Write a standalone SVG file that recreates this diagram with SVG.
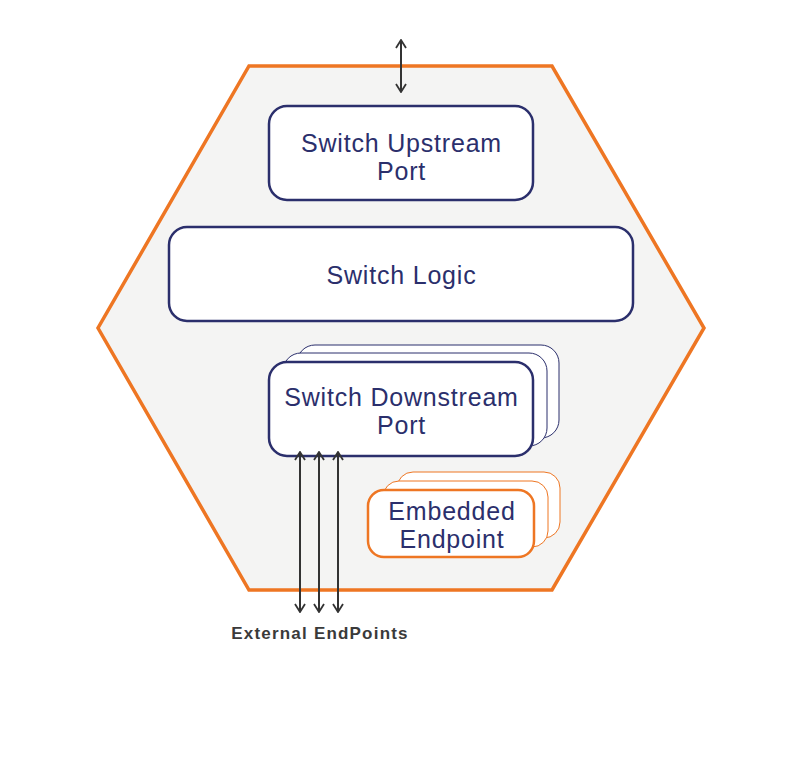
<svg xmlns="http://www.w3.org/2000/svg" width="801" height="762" viewBox="0 0 801 762">
<style>
.box{fill:#fff;stroke:#2b2f6c;stroke-width:2.5}
.back{fill:#fff;stroke:#2b2f6c;stroke-width:1}
.ebox{fill:#fff;stroke:#ee7623;stroke-width:2.5}
.eback{fill:#fff;stroke:#ee7623;stroke-width:1}
.t{font-family:"Liberation Sans",Arial,sans-serif;font-size:25px;letter-spacing:0.8px;fill:#2b2f6c;text-anchor:middle}
.lbl{font-family:"Liberation Sans",Arial,sans-serif;font-size:17px;letter-spacing:1.2px;font-weight:bold;fill:#3a3a3a;text-anchor:middle}
.conn{stroke:#333;stroke-width:2;fill:none;marker-start:url(#ah);marker-end:url(#ah)}
</style>
<defs>
<marker id="ah" viewBox="0 0 12 12" refX="11" refY="6" markerWidth="12" markerHeight="12" markerUnits="userSpaceOnUse" orient="auto-start-reverse">
<polyline points="3,1 11,6 3,11" fill="none" stroke="#333" stroke-width="1.8"/>
</marker>
</defs>
<g id="switch">
<polygon points="249,66 552,66 704,328 552,590 249,590 98,328" fill="#f4f4f3" stroke="#ee7623" stroke-width="3.5"/>
</g>
<g id="upstream">
<rect class="box" x="269" y="106" width="264" height="94" rx="18"/>
<text class="t" x="401.5" y="152">Switch Upstream</text>
<text class="t" x="401.5" y="180">Port</text>
</g>
<g id="logic">
<rect class="box" x="169" y="227" width="464" height="94" rx="18"/>
<text class="t" x="401.5" y="284">Switch Logic</text>
</g>
<g id="downstream">
<rect class="back" x="297" y="345" width="262" height="93" rx="18"/>
<rect class="back" x="283" y="353" width="264" height="93" rx="18"/>
<rect class="box" x="269" y="362" width="264" height="94" rx="18"/>
<text class="t" x="401.5" y="406">Switch Downstream</text>
<text class="t" x="401.5" y="434">Port</text>
</g>
<g id="embedded">
<rect class="eback" x="397" y="472" width="163" height="66" rx="16"/>
<rect class="eback" x="383" y="481" width="165" height="66" rx="16"/>
<rect class="ebox" x="368" y="490" width="166" height="67" rx="16"/>
<text class="t" x="452" y="520">Embedded</text>
<text class="t" x="452" y="548">Endpoint</text>
</g>
<g id="connectors">
<line class="conn" x1="401" y1="40" x2="401" y2="92"/>
<line class="conn" x1="300" y1="452" x2="300" y2="612"/>
<line class="conn" x1="319" y1="452" x2="319" y2="612"/>
<line class="conn" x1="338" y1="452" x2="338" y2="612"/>
</g>
<g id="external">
<text class="lbl" x="320" y="638.5">External EndPoints</text>
</g>
</svg>
